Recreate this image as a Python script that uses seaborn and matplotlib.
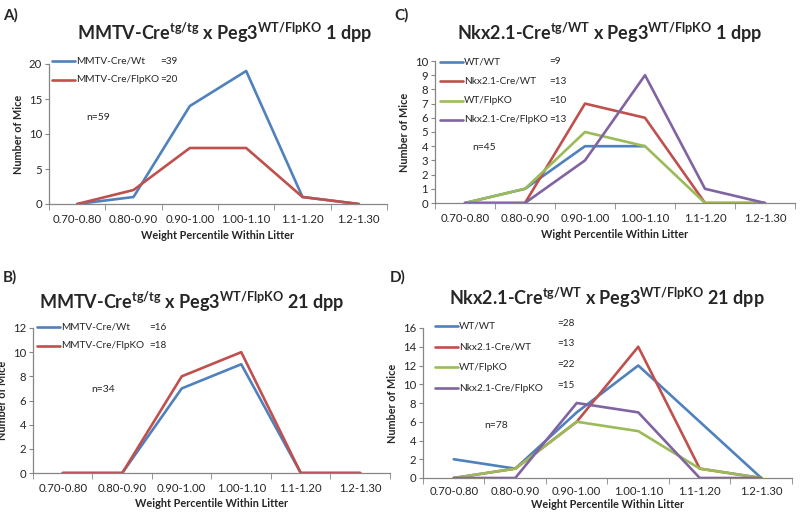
import matplotlib
matplotlib.use("Agg")
import matplotlib.pyplot as plt
import numpy as np
import pandas as pd
import seaborn as sns

sns.set_style("ticks")
plt.rcParams["font.family"] = ["Lato", "DejaVu Sans"]
plt.rcParams["mathtext.fontset"] = "custom"
plt.rcParams["mathtext.rm"] = "Lato:bold"
plt.rcParams["mathtext.bf"] = "Lato:bold"
plt.rcParams["mathtext.it"] = "Lato:bold"

bins = ["0.70-0.80", "0.80-0.90", "0.90-1.00", "1.00-1.10", "1.1-1.20", "1.2-1.30"]

# panel A: MMTV-Cre 1 dpp
a_names = ["MMTV-Cre/Wt", "MMTV-Cre/FlpKO"]
a_counts = ["=39", "=20"]
a_wt = [0, 1, 14, 19, 1, 0]
a_ko = [0, 2, 8, 8, 1, 0]

# panel B: MMTV-Cre 21 dpp
b_names = ["MMTV-Cre/Wt", "MMTV-Cre/FlpKO"]
b_counts = ["=16", "=18"]
b_wt = [0, 0, 7, 9, 0, 0]
b_ko = [0, 0, 8, 10, 0, 0]

# panel C: Nkx2.1-Cre 1 dpp
c_names = ["WT/WT", "Nkx2.1-Cre/WT", "WT/FlpKO", "Nkx2.1-Cre/FlpKO"]
c_counts = ["=9", "=13", "=10", "=13"]
c_wtwt = [0, 1, 4, 4, np.nan, np.nan]
c_crewt = [0, 0, 7, 6, 0, 0]
c_wtko = [0, 1, 5, 4, 0, 0]
c_creko = [0, 0, 3, 9, 1, 0]

# panel D: Nkx2.1-Cre 21 dpp
d_names = ["WT/WT", "Nkx2.1-Cre/WT", "WT/FlpKO", "Nkx2.1-Cre/FlpKO"]
d_counts = ["=28", "=13", "=22", "=15"]
d_wtwt = [2, 1, 7, 12, 6, 0]
d_crewt = [0, 1, 6, 14, 1, 0]
d_wtko = [0, 1, 6, 5, 1, 0]
d_creko = [0, 0, 8, 7, 0, 0]

colors = ["#4F81BD", "#C0504D", "#9BBB59", "#8064A2"]


def panel(fig, rect, names, series, counts, ymax, ystep, title, letter, letter_xy,
          title_xy, xlabel, n_text, n_xy, leg_x, leg_y0, leg_dy, count_x, count_dy=0,
          tick_pad=7.5, label_pad=3.5):
    ax = fig.add_axes(rect)
    df = pd.concat([pd.DataFrame({"bin": bins, "mice": s, "geno": nm})
                    for nm, s in zip(names, series)], ignore_index=True)
    df = df.dropna().reset_index(drop=True)
    sns.lineplot(data=df, x="bin", y="mice", hue="geno", hue_order=names,
                 palette=colors[:len(names)], sort=False, linewidth=1.9, legend=False, ax=ax)
    ax.set_xlim(-0.5, 5.5)
    ax.set_ylim(0, ymax)
    ax.set_yticks(np.arange(0, ymax + 0.1, ystep))
    ax.set_xticks(range(len(bins)))
    ax.set_xticklabels(bins)
    ax.set_xticks(np.arange(-0.5, 6, 1), minor=True)
    ax.tick_params(axis="x", which="major", length=0, pad=tick_pad, labelsize=8.2,
                   labelcolor="#262626")
    ax.tick_params(axis="x", which="minor", length=4, color="#868686")
    ax.tick_params(axis="y", length=3, color="#868686", labelsize=8.2, labelcolor="#262626", pad=2)
    for s in ["top", "right"]:
        ax.spines[s].set_visible(False)
    for s in ["left", "bottom"]:
        ax.spines[s].set_color("#868686")
        ax.spines[s].set_linewidth(0.9)
    ax.set_xlabel(xlabel, fontsize=7.8, fontweight="bold", labelpad=label_pad)
    ax.set_ylabel("Number of Mice", fontsize=7.8, fontweight="bold", labelpad=3.5)

    # manual legend, Excel style
    W, H = 804, 515
    for i, nm in enumerate(names):
        y = leg_y0 + i * leg_dy
        fig.add_artist(plt.Line2D([(leg_x) / W, (leg_x + 23) / W], [1 - y / H, 1 - y / H],
                                  color=colors[i], linewidth=1.9))
        fig.text((leg_x + 24) / W, 1 - y / H, nm, fontsize=7.2, va="center", color="#262626")
        fig.text(count_x / W, 1 - (y - count_dy) / H, counts[i], fontsize=7.2, va="center",
                 color="#262626")
    fig.text(n_xy[0] / W, 1 - n_xy[1] / H, n_text, fontsize=7.5, va="center", color="#262626")
    fig.text(title_xy[0] / W, 1 - title_xy[1] / H, title, fontsize=13, fontweight="bold",
             ha="center", va="center")
    fig.text(letter_xy[0] / W, 1 - letter_xy[1] / H, letter, fontsize=11, fontweight="bold",
             va="center")
    return ax


fig = plt.figure(figsize=(8.04, 5.15), dpi=100)

panel(fig, [49 / 804, 1 - 204 / 515, 338 / 804, 140 / 515], a_names, [a_wt, a_ko], a_counts,
      20, 5, r"MMTV-Cre$^{\mathrm{tg/tg}}$ x Peg3$^{\mathrm{WT/FlpKO}}$ 1 dpp", "A)", (3, 15),
      (225, 33), "Weight Percentile Within Litter", "n=59", (86, 117), 52, 61, 19, 160)

panel(fig, [435 / 804, 1 - 203 / 515, 360 / 804, 142 / 515], c_names,
      [c_wtwt, c_crewt, c_wtko, c_creko], c_counts, 10, 1,
      r"Nkx2.1-Cre$^{\mathrm{tg/WT}}$ x Peg3$^{\mathrm{WT/FlpKO}}$ 1 dpp", "C)", (394, 15),
      (610, 33), "Wight Percentile Within Litter", "n=45", (472, 147), 440, 62, 19.3, 549)

panel(fig, [33 / 804, 1 - 473 / 515, 357 / 804, 145 / 515], b_names, [b_wt, b_ko], b_counts,
      12, 2, r"MMTV-Cre$^{\mathrm{tg/tg}}$ x Peg3$^{\mathrm{WT/FlpKO}}$ 21 dpp", "B)", (3, 277),
      (192, 302), "Weight Percentile Within Litter", "n=34", (91, 390), 37, 327, 19, 149,
      tick_pad=7, label_pad=3)

panel(fig, [423 / 804, 1 - 478 / 515, 369 / 804, 150 / 515], d_names,
      [d_wtwt, d_crewt, d_wtko, d_creko], d_counts, 16, 2,
      r"Nkx2.1-Cre$^{\mathrm{tg/WT}}$ x Peg3$^{\mathrm{WT/FlpKO}}$ 21 dpp", "D)", (390, 277),
      (607, 298), "Weight Percentile Within Litter", "n=78", (484, 425), 435, 326, 20.7, 557,
      count_dy=3, tick_pad=6, label_pad=1.5)

fig.savefig("out.png", dpi=100)
